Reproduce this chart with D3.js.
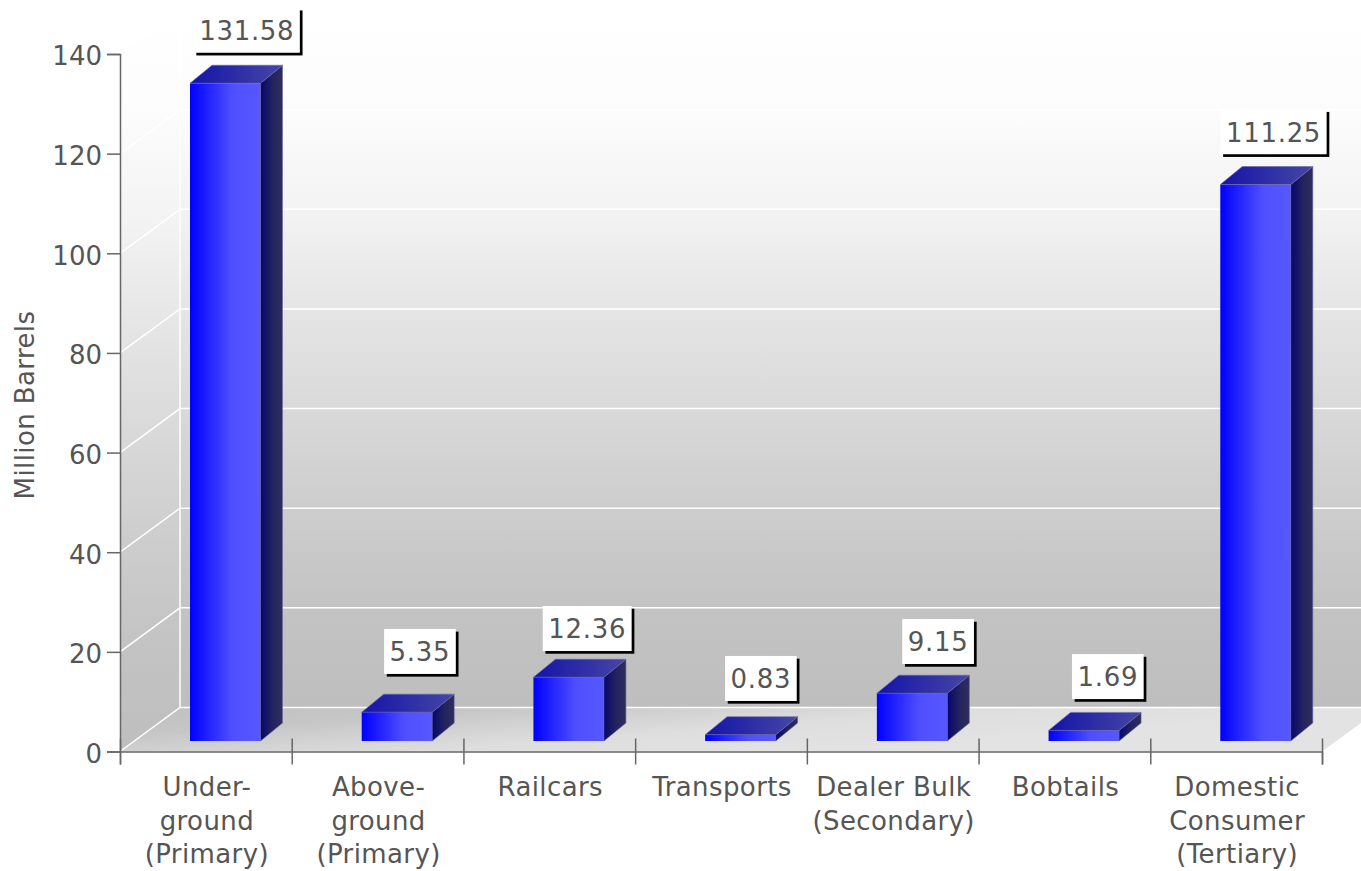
<!DOCTYPE html>
<html>
<head>
<meta charset="utf-8">
<script src="https://cdn.jsdelivr.net/npm/d3@7"></script>
<style>
  html, body { margin: 0; padding: 0; background: #fff; overflow: hidden; }
  text { font-family: "DejaVu Sans", Verdana, sans-serif; fill: #555; font-size: 26px; letter-spacing: 0.4px; }
  .lbl text { letter-spacing: 0.7px; }
  .tick text { letter-spacing: 0; }
</style>
</head>
<body>
<svg id="chart" width="1361" height="871"></svg>
<script>
const categories = [
  ['Under-', 'ground', '(Primary)'],
  ['Above-', 'ground', '(Primary)'],
  ['Railcars'],
  ['Transports'],
  ['Dealer Bulk', '(Secondary)'],
  ['Bobtails'],
  ['Domestic', 'Consumer', '(Tertiary)']
];
const values = [131.58, 5.35, 12.36, 0.83, 9.15, 1.69, 111.25];
const valueLabels = ['131.58', '5.35', '12.36', '0.83', '9.15', '1.69', '111.25'];
const yTicks = [0, 20, 40, 60, 80, 100, 120, 140];
const yTitle = 'Million Barrels';
// the labels were nudged apart in the original, not all the same gap
const labelNudgeX = [-0.5, 1, -3.5, -1.5, 4, 2, -4];
const labelNudgeY = [-0.7, -8.4, 3.6, -3.9, 0.6, -1.5, -0.5];

const svg = d3.select('#chart');
const defs = svg.append('defs');

const left = 120, right = 1322, y0 = 751.5, y140 = 54;
const depthX = 60, depthY = 44;      // chart box depth
const barDX = 22, barDY = 18;        // bar depth
const barW = 70.5;

const x = d3.scaleBand().domain(d3.range(categories.length)).range([left, right]);
const xEdge = d3.scaleLinear().domain([0, categories.length]).range([left, right]);
const y = d3.scaleLinear().domain([0, 140]).range([y0, y140]);

function gradient(id, stops, vertical) {
  const g = defs.append('linearGradient').attr('id', id)
    .attr('x1', 0).attr('y1', 0)
    .attr('x2', vertical ? 0 : 1).attr('y2', vertical ? 1 : 0);
  stops.forEach(s => g.append('stop').attr('offset', s[0]).attr('stop-color', s[1]));
  return g;
}
gradient('wall', [[0, '#ffffff'], [0.143, '#fcfcfc'], [0.284, '#f3f3f3'], [0.43, '#e5e5e5'],
  [0.57, '#d9d9d9'], [0.715, '#cdcdcd'], [0.858, '#c3c3c3'], [1, '#bebebe']], true);
gradient('floor', [[0, '#c0c0c0'], [0.29, '#c6c6c6'], [0.67, '#dedede'], [1, '#e3e3e3']])
  .attr('gradientUnits', 'userSpaceOnUse')
  .attr('x1', 120).attr('y1', 707).attr('x2', 127.6).attr('y2', 806.7);
gradient('front', [[0, '#0000ff'], [0.6, '#4f4fff'], [1, '#5858ff']]);
gradient('side', [[0, '#07076e'], [0.6, '#25255f'], [1, '#2e2e5a']]);
gradient('top', [[0, '#1414a8'], [1, '#4646a6']]);

const path = pts => 'M' + pts.map(p => p.join(',')).join('L') + 'Z';

// walls and floor
const backX = left + depthX, backBottom = y0 - depthY, backTop = y140 - depthY;
svg.append('rect').attr('x', backX).attr('y', backTop)
  .attr('width', 1361 - backX).attr('height', backBottom - backTop).attr('fill', 'url(#wall)');
svg.append('path').attr('fill', 'url(#wall)')
  .attr('d', path([[left, y140], [backX, backTop], [backX, backBottom], [left, y0]]));
svg.append('path').attr('fill', 'url(#floor)')
  .attr('d', path([[left, y0], [backX, backBottom], [right + depthX, backBottom], [right, y0]]));

// grid lines
const grid = svg.append('g').attr('fill', 'none').attr('stroke', '#fff').attr('stroke-width', 1.5);
yTicks.forEach(t => {
  grid.append('path').attr('d', `M${left},${y(t)}L${backX},${y(t) - depthY}L1361,${y(t) - depthY}`);
});
grid.append('path').attr('d', `M${backX},${backTop}V${backBottom}`);

// axes
const yAxis = d3.axisLeft(y).tickValues(yTicks).tickSize(13).tickPadding(5);
const gy = svg.append('g').attr('transform', `translate(${left},0)`).call(yAxis);
const xAxis = d3.axisBottom(xEdge).tickValues(d3.range(categories.length + 1)).tickSize(13).tickFormat('');
const gx = svg.append('g').attr('transform', `translate(0,${y0})`).call(xAxis);
gx.selectAll('.tick line').attr('y1', -13);
[gy, gx].forEach(g => {
  g.selectAll('.domain').attr('stroke', '#666').attr('stroke-width', 1.5);
  g.selectAll('.tick line').attr('stroke', '#666').attr('stroke-width', 1.5);
});
gy.attr('font-family', null).attr('font-size', null);
gy.selectAll('text').attr('fill', null).attr('y', 2.5);

// bars
const barBottom = y0 - 10.5, barLift = 12.7;
const bars = svg.selectAll('.bar').data(values).enter().append('g').attr('class', 'bar');
const barX = i => x(i) + 70;
bars.append('rect')
  .attr('x', (d, i) => barX(i))
  .attr('y', d => y(d) - barLift)
  .attr('width', barW)
  .attr('height', d => barBottom - (y(d) - barLift))
  .attr('fill', 'url(#front)');
bars.append('path').attr('fill', 'url(#side)')
  .attr('stroke', '#6a6aa8').attr('stroke-width', 0.6)
  .attr('d', (d, i) => {
    const a = barX(i) + barW, t = y(d) - barLift;
    return path([[a, t], [a + barDX, t - barDY], [a + barDX, barBottom - barDY], [a, barBottom]]);
  });
bars.append('path').attr('fill', 'url(#top)')
  .attr('stroke', '#6a6aa8').attr('stroke-width', 0.6)
  .attr('d', (d, i) => {
    const a = barX(i), t = y(d) - barLift;
    return path([[a, t], [a + barDX, t - barDY], [a + barW + barDX, t - barDY], [a + barW, t]]);
  });

// value labels
const labels = svg.selectAll('.lbl').data(values).enter().append('g').attr('class', 'lbl')
  .attr('transform', (d, i) => `translate(${barX(i) + barW / 2 + 22 + labelNudgeX[i]},${y(d) - 65 + labelNudgeY[i]})`);
labels.each(function (d, i) {
  const g = d3.select(this);
  const t = g.append('text').attr('text-anchor', 'middle').attr('y', 0.5).attr('dy', '0.36em')
    .text(valueLabels[i]);
  const w = t.node().getComputedTextLength() + 11, h = 45;
  g.insert('rect', 'text').attr('x', -w / 2 + 2.7).attr('y', -h / 2 + 2.7).attr('width', w).attr('height', h).attr('fill', '#000');
  g.insert('rect', 'text').attr('x', -w / 2).attr('y', -h / 2).attr('width', w).attr('height', h).attr('fill', '#fff');
});

// category labels
const cat = svg.selectAll('.cat').data(categories).enter().append('text').attr('class', 'cat')
  .attr('text-anchor', 'middle')
  .attr('transform', (d, i) => `translate(${x(i) + x.bandwidth() / 2 + 1},796)`);
cat.selectAll('tspan').data(d => d).enter().append('tspan')
  .attr('x', 0).attr('y', (d, i) => i * 33.5).text(d => d);

// axis title
svg.append('text').attr('text-anchor', 'middle')
  .attr('transform', 'translate(34,405) rotate(-90)').text(yTitle);
</script>
</body>
</html>
